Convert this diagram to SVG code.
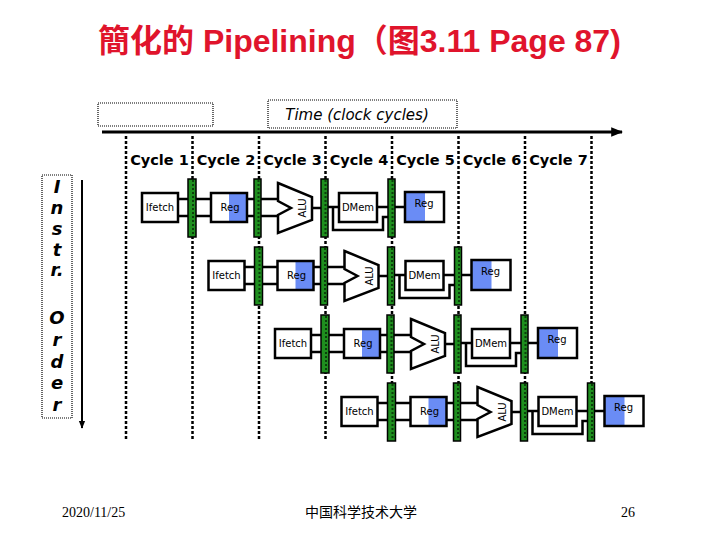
<svg xmlns="http://www.w3.org/2000/svg" width="720" height="540" viewBox="0 0 720 540">
<style>
.box{fill:#fff;stroke:#000;stroke-width:2.5}
.blue{fill:#6a8cf5}
.wire{stroke:#000;stroke-width:2.5;fill:none}
.bar{fill:#1f8f1f;stroke:#000;stroke-width:1.5}
.tick{stroke:#0b3f0b;stroke-width:2;stroke-dasharray:2 2}
.lbl{font-family:"Comic Sans MS","DejaVu Sans",sans-serif;font-size:10px;text-anchor:middle;fill:#000}
.cyc{font-family:"Comic Sans MS","DejaVu Sans",sans-serif;font-size:14.5px;font-weight:bold;text-anchor:middle}
.ord{font-family:"Comic Sans MS","DejaVu Sans",sans-serif;font-size:18px;font-weight:bold;font-style:italic;text-anchor:middle}
.dot{stroke:#000;stroke-width:2.5;stroke-dasharray:3 2}
.dbox{fill:#fff;stroke:#000;stroke-width:1.2;stroke-dasharray:1 1}
.foot{font-family:"Liberation Serif","Noto Sans CJK SC",serif;font-size:14px}
</style>
<defs>
<marker id="ah" viewBox="0 0 10 10" refX="9" refY="5" markerWidth="4" markerHeight="4" orient="auto" markerUnits="strokeWidth">
<path d="M0,1 L10,5 L0,9 z" fill="#000"/>
</marker>
</defs>
<rect width="720" height="540" fill="#fff"/>
<text x="98" y="52" font-family="'Liberation Sans','Noto Sans CJK SC',sans-serif" font-size="32" font-weight="bold" fill="#e0142c">簡化的 Pipelining（图3.11 Page 87)</text>

<g id="blank-box"><rect class="dbox" x="98" y="103" width="115" height="23"/></g>
<g id="time-box"><rect class="dbox" x="268" y="100" width="189" height="28"/>
<text x="357" y="120" font-family="'Comic Sans MS','DejaVu Sans',sans-serif" font-size="15" font-style="italic" text-anchor="middle">Time (clock cycles)</text></g>

<g id="grid">
<line class="dot" x1="126" y1="136" x2="126" y2="440"/>
<line class="dot" x1="192.5" y1="136" x2="192.5" y2="440"/>
<line class="dot" x1="259" y1="136" x2="259" y2="440"/>
<line class="dot" x1="325.5" y1="136" x2="325.5" y2="440"/>
<line class="dot" x1="392" y1="136" x2="392" y2="440"/>
<line class="dot" x1="458.5" y1="136" x2="458.5" y2="440"/>
<line class="dot" x1="525" y1="136" x2="525" y2="440"/>
<line class="dot" x1="591.5" y1="136" x2="591.5" y2="440"/>
</g>

<g id="connectors">
<line x1="102" y1="132" x2="622" y2="132" stroke="#000" stroke-width="3" marker-end="url(#ah)"/>
<line x1="82" y1="180" x2="82" y2="428" stroke="#000" stroke-width="2" marker-end="url(#ah)"/>
</g>

<g id="cycles">
<text class="cyc" x="159.5" y="165">Cycle 1</text>
<text class="cyc" x="226" y="165">Cycle 2</text>
<text class="cyc" x="292.5" y="165">Cycle 3</text>
<text class="cyc" x="359" y="165">Cycle 4</text>
<text class="cyc" x="425.5" y="165">Cycle 5</text>
<text class="cyc" x="492" y="165">Cycle 6</text>
<text class="cyc" x="558.5" y="165">Cycle 7</text>
</g>

<g id="instr-order">
<rect class="dbox" x="42" y="175" width="30" height="243"/>
<text class="ord" x="57" y="193">I</text>
<text class="ord" x="57" y="214">n</text>
<text class="ord" x="57" y="235">s</text>
<text class="ord" x="57" y="256">t</text>
<text class="ord" x="57" y="276">r.</text>
<text class="ord" x="57" y="324">O</text>
<text class="ord" x="57" y="346">r</text>
<text class="ord" x="57" y="368">d</text>
<text class="ord" x="57" y="389">e</text>
<text class="ord" x="57" y="411">r</text>
</g>

<g id="instr1">
<g id="i1-ifetch"><rect class="box" x="142" y="193" width="36" height="29"/><text class="lbl" x="160" y="211" font-size="11">Ifetch</text></g>
<path class="wire" d="M178 199H188M178 216H188M196 199H211M196 216H211M247 199H254M247 216H254M261 199H278M261 216H278M312 208H321M328 207H339M377 207H388M333 207V230H383V217H388M395 207H405"/>
<g id="i1-bar1"><rect class="bar" x="188" y="179" width="8" height="58"/><line class="tick" x1="193" y1="180" x2="193" y2="236"/></g>
<g id="i1-reg"><rect class="blue" x="229" y="193" width="18" height="29"/><rect class="box" x="211" y="193" width="36" height="29" style="fill:none"/><text class="lbl" x="230" y="211">Reg</text></g>
<g id="i1-bar2"><rect class="bar" x="254" y="179" width="7" height="58"/><line class="tick" x1="258.5" y1="180" x2="258.5" y2="236"/></g>
<g id="i1-alu"><polygon class="box" points="278,183 312,197 312,220 278,233 278,215 291,208 278,201"/><text class="lbl" transform="translate(306,208) rotate(-90)">ALU</text></g>
<g id="i1-bar3"><rect class="bar" x="321" y="179" width="7" height="58"/><line class="tick" x1="325.5" y1="180" x2="325.5" y2="236"/></g>
<g id="i1-dmem"><rect class="box" x="339" y="193" width="38" height="29"/><text class="lbl" x="358" y="211">DMem</text></g>
<g id="i1-bar4"><rect class="bar" x="388" y="179" width="7" height="58"/><line class="tick" x1="392.5" y1="180" x2="392.5" y2="236"/></g>
<g id="i1-regw"><rect class="blue" x="405" y="192" width="20" height="30"/><rect class="box" x="405" y="192" width="39" height="30" style="fill:none"/><text class="lbl" x="424" y="207">Reg</text></g>
</g>

<g id="instr2" transform="translate(66.5,68)">
<g id="i2-ifetch"><rect class="box" x="142" y="193" width="36" height="29"/><text class="lbl" x="160" y="211" font-size="11">Ifetch</text></g>
<path class="wire" d="M178 199H188M178 216H188M196 199H211M196 216H211M247 199H254M247 216H254M261 199H278M261 216H278M312 208H321M328 207H339M377 207H388M333 207V230H383V217H388M395 207H405"/>
<g id="i2-bar1"><rect class="bar" x="188" y="179" width="8" height="58"/><line class="tick" x1="193" y1="180" x2="193" y2="236"/></g>
<g id="i2-reg"><rect class="blue" x="229" y="193" width="18" height="29"/><rect class="box" x="211" y="193" width="36" height="29" style="fill:none"/><text class="lbl" x="230" y="211">Reg</text></g>
<g id="i2-bar2"><rect class="bar" x="254" y="179" width="7" height="58"/><line class="tick" x1="258.5" y1="180" x2="258.5" y2="236"/></g>
<g id="i2-alu"><polygon class="box" points="278,183 312,197 312,220 278,233 278,215 291,208 278,201"/><text class="lbl" transform="translate(306,208) rotate(-90)">ALU</text></g>
<g id="i2-bar3"><rect class="bar" x="321" y="179" width="7" height="58"/><line class="tick" x1="325.5" y1="180" x2="325.5" y2="236"/></g>
<g id="i2-dmem"><rect class="box" x="339" y="193" width="38" height="29"/><text class="lbl" x="358" y="211">DMem</text></g>
<g id="i2-bar4"><rect class="bar" x="388" y="179" width="7" height="58"/><line class="tick" x1="392.5" y1="180" x2="392.5" y2="236"/></g>
<g id="i2-regw"><rect class="blue" x="405" y="192" width="20" height="30"/><rect class="box" x="405" y="192" width="39" height="30" style="fill:none"/><text class="lbl" x="424" y="207">Reg</text></g>
</g>

<g id="instr3" transform="translate(133,136)">
<g id="i3-ifetch"><rect class="box" x="142" y="193" width="36" height="29"/><text class="lbl" x="160" y="211" font-size="11">Ifetch</text></g>
<path class="wire" d="M178 199H188M178 216H188M196 199H211M196 216H211M247 199H254M247 216H254M261 199H278M261 216H278M312 208H321M328 207H339M377 207H388M333 207V230H383V217H388M395 207H405"/>
<g id="i3-bar1"><rect class="bar" x="188" y="179" width="8" height="58"/><line class="tick" x1="193" y1="180" x2="193" y2="236"/></g>
<g id="i3-reg"><rect class="blue" x="229" y="193" width="18" height="29"/><rect class="box" x="211" y="193" width="36" height="29" style="fill:none"/><text class="lbl" x="230" y="211">Reg</text></g>
<g id="i3-bar2"><rect class="bar" x="254" y="179" width="7" height="58"/><line class="tick" x1="258.5" y1="180" x2="258.5" y2="236"/></g>
<g id="i3-alu"><polygon class="box" points="278,183 312,197 312,220 278,233 278,215 291,208 278,201"/><text class="lbl" transform="translate(306,208) rotate(-90)">ALU</text></g>
<g id="i3-bar3"><rect class="bar" x="321" y="179" width="7" height="58"/><line class="tick" x1="325.5" y1="180" x2="325.5" y2="236"/></g>
<g id="i3-dmem"><rect class="box" x="339" y="193" width="38" height="29"/><text class="lbl" x="358" y="211">DMem</text></g>
<g id="i3-bar4"><rect class="bar" x="388" y="179" width="7" height="58"/><line class="tick" x1="392.5" y1="180" x2="392.5" y2="236"/></g>
<g id="i3-regw"><rect class="blue" x="405" y="192" width="20" height="30"/><rect class="box" x="405" y="192" width="39" height="30" style="fill:none"/><text class="lbl" x="424" y="207">Reg</text></g>
</g>

<g id="instr4" transform="translate(199.5,204)">
<g id="i4-ifetch"><rect class="box" x="142" y="193" width="36" height="29"/><text class="lbl" x="160" y="211" font-size="11">Ifetch</text></g>
<path class="wire" d="M178 199H188M178 216H188M196 199H211M196 216H211M247 199H254M247 216H254M261 199H278M261 216H278M312 208H321M328 207H339M377 207H388M333 207V230H383V217H388M395 207H405"/>
<g id="i4-bar1"><rect class="bar" x="188" y="179" width="8" height="58"/><line class="tick" x1="193" y1="180" x2="193" y2="236"/></g>
<g id="i4-reg"><rect class="blue" x="229" y="193" width="18" height="29"/><rect class="box" x="211" y="193" width="36" height="29" style="fill:none"/><text class="lbl" x="230" y="211">Reg</text></g>
<g id="i4-bar2"><rect class="bar" x="254" y="179" width="7" height="58"/><line class="tick" x1="258.5" y1="180" x2="258.5" y2="236"/></g>
<g id="i4-alu"><polygon class="box" points="278,183 312,197 312,220 278,233 278,215 291,208 278,201"/><text class="lbl" transform="translate(306,208) rotate(-90)">ALU</text></g>
<g id="i4-bar3"><rect class="bar" x="321" y="179" width="7" height="58"/><line class="tick" x1="325.5" y1="180" x2="325.5" y2="236"/></g>
<g id="i4-dmem"><rect class="box" x="339" y="193" width="38" height="29"/><text class="lbl" x="358" y="211">DMem</text></g>
<g id="i4-bar4"><rect class="bar" x="388" y="179" width="7" height="58"/><line class="tick" x1="392.5" y1="180" x2="392.5" y2="236"/></g>
<g id="i4-regw"><rect class="blue" x="405" y="192" width="20" height="30"/><rect class="box" x="405" y="192" width="39" height="30" style="fill:none"/><text class="lbl" x="424" y="207">Reg</text></g>
</g>

<g id="footer">
<text class="foot" x="62" y="517">2020/11/25</text>
<text class="foot" x="305" y="517">中国科学技术大学</text>
<text class="foot" x="621" y="517">26</text>
</g>
</svg>
